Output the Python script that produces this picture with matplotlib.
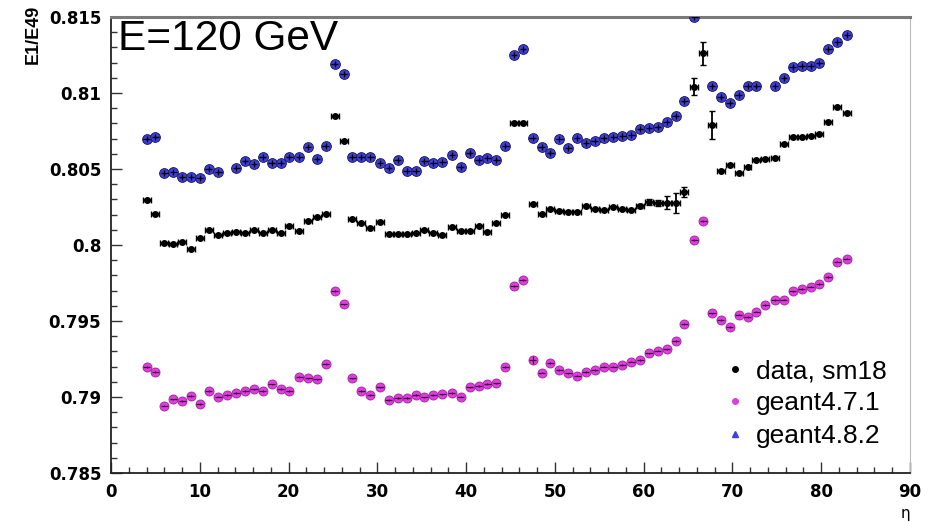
import numpy as np
import matplotlib
matplotlib.use("Agg")
import matplotlib.pyplot as plt
from matplotlib.ticker import MultipleLocator, FuncFormatter
from matplotlib.lines import Line2D

# eta position of each tower (as drawn on the axis)
eta = [4.0, 5.0, 6.0, 7.0, 8.0, 9.0, 10.0, 11.0, 12.1, 13.1,
       14.1, 15.1, 16.1, 17.1, 18.1, 19.1, 20.1, 21.2, 22.2, 23.2,
       24.2, 25.2, 26.2, 27.2, 28.2, 29.2, 30.3, 31.3, 32.3, 33.3,
       34.3, 35.3, 36.3, 37.3, 38.4, 39.4, 40.4, 41.4, 42.4, 43.4,
       44.4, 45.4, 46.4, 47.5, 48.5, 49.5, 50.5, 51.5, 52.5, 53.5,
       54.5, 55.5, 56.6, 57.6, 58.6, 59.6, 60.6, 61.6, 62.6, 63.6,
       64.6, 65.7, 66.7, 67.7, 68.7, 69.7, 70.7, 71.7, 72.7, 73.7,
       74.8, 75.8, 76.8, 77.8, 78.8, 79.8, 80.8, 81.8, 82.9]

# E1/E49 for beam data (run sm18)
data_sm18 = [0.80296, 0.80204, 0.80011, 0.80007, 0.80022, 0.79972, 0.80044, 0.80099, 0.80066, 0.80077,
             0.80088, 0.80081, 0.80099, 0.80077, 0.80099, 0.80077, 0.80125, 0.80094, 0.80160, 0.80182,
             0.80204, 0.80849, 0.80684, 0.80169, 0.80142, 0.80115, 0.80153, 0.80072, 0.80072, 0.80072,
             0.80077, 0.80099, 0.80081, 0.80066, 0.80120, 0.80092, 0.80094, 0.80127, 0.80088, 0.80142,
             0.80200, 0.80801, 0.80801, 0.80270, 0.80202, 0.80235, 0.80224, 0.80219, 0.80219, 0.80257,
             0.80235, 0.80230, 0.80252, 0.80235, 0.80230, 0.80257, 0.80285, 0.80278, 0.80278, 0.80274,
             0.80351, 0.81041, 0.81261, 0.80790, 0.80489, 0.80526, 0.80474, 0.80515, 0.80557, 0.80567,
             0.80572, 0.80663, 0.80712, 0.80710, 0.80720, 0.80730, 0.80811, 0.80910, 0.80870]
data_err = [0.00005] * 55 + [0.00015, 0.0002, 0.0002, 0.00044, 0.00066,
                             0.00033, 0.00055, 0.00077, 0.00092] + [0.00005] * 15

# geant4.7.1 simulation
g471 = [0.79199, 0.79166, 0.78943, 0.78985, 0.78974, 0.79007, 0.78954, 0.79040, 0.79002, 0.79013,
        0.79028, 0.79041, 0.79050, 0.79041, 0.79083, 0.79053, 0.79041, 0.79134, 0.79123, 0.79116,
        0.79217, 0.79699, 0.79610, 0.79123, 0.79040, 0.79013, 0.79064, 0.78980, 0.78995, 0.78995,
        0.79013, 0.78998, 0.79013, 0.79018, 0.79028, 0.79002, 0.79064, 0.79072, 0.79085, 0.79090,
        0.79199, 0.79730, 0.79770, 0.79243, 0.79160, 0.79222, 0.79178, 0.79156, 0.79140, 0.79166,
        0.79178, 0.79200, 0.79200, 0.79210, 0.79232, 0.79243, 0.79287, 0.79305, 0.79314, 0.79370,
        0.79480, 0.80033, 0.80158, 0.79550, 0.79505, 0.79459, 0.79542, 0.79526, 0.79561, 0.79605,
        0.79638, 0.79640, 0.79695, 0.79712, 0.79726, 0.79745, 0.79789, 0.79890, 0.79910]
g471_err = [0.00005] * 43 + [0.00026] + [0.00005] * 35

# geant4.8.2 simulation (nan = tower not available)
nan = np.nan
g482 = [0.80697, 0.80708, 0.80472, 0.80482, 0.80449, 0.80449, 0.80439, 0.80498, 0.80478, nan,
        0.80505, 0.80555, 0.80531, 0.80577, 0.80537, 0.80537, 0.80577, 0.80577, 0.80647, 0.80566,
        0.80651, 0.81191, 0.81125, 0.80581, 0.80581, 0.80577, 0.80541, 0.80505, 0.80559, 0.80487,
        0.80487, 0.80555, 0.80541, 0.80548, 0.80592, 0.80515, 0.80603, 0.80559, 0.80574, 0.80559,
        0.80651, 0.81250, 0.81287, 0.80706, 0.80643, 0.80603, 0.80695, 0.80636, 0.80702, 0.80673,
        0.80686, 0.80706, 0.80713, 0.80717, 0.80724, 0.80761, 0.80768, 0.80778, 0.80811, 0.80849,
        0.80947, 0.81500, nan, 0.81046, 0.80972, 0.80932, 0.80987, 0.81046, 0.81046, nan,
        0.81046, 0.81097, 0.81169, 0.81178, 0.81178, 0.81195, 0.81287, 0.81338, 0.81382]

labels = ["data, sm18", "geant4.7.1", "geant4.8.2"]
magenta = "#e03ce0"
blue = "#4040e0"

fig = plt.figure(figsize=(9.41, 5.23), dpi=100)
ax = fig.add_axes([0.118, 0.0956, 0.849, 0.8719])

x = np.array(eta)

# geant4.7.1: filled magenta circles with a dark horizontal bar
ax.plot(x, g471, "o", color=magenta, markersize=6.5, markeredgecolor="#a020a0",
        markeredgewidth=0.6, zorder=3)
ax.errorbar(x, g471, xerr=0.4, yerr=g471_err, fmt="none", ecolor="#3a103a",
            elinewidth=0.9, zorder=4)

# geant4.8.2: blue circles with a black cross
ax.plot(x, g482, "o", color=blue, markersize=7, markeredgecolor="#1a1a60",
        markeredgewidth=0.7, zorder=3)
ax.errorbar(x, g482, xerr=0.38, yerr=0.0002, fmt="none", ecolor="black",
            elinewidth=1.0, zorder=4)

# data: small black dots with horizontal bars
ax.errorbar(x, data_sm18, xerr=0.45, yerr=data_err, fmt="o", color="black",
            markersize=4, ecolor="black", elinewidth=1.3, capsize=2,
            capthick=1.0, zorder=5)

ax.set_xlim(0, 90)
ax.set_ylim(0.785, 0.815)

ax.xaxis.set_major_locator(MultipleLocator(10))
ax.xaxis.set_minor_locator(MultipleLocator(2))
ax.yaxis.set_major_locator(MultipleLocator(0.005))
ax.yaxis.set_minor_locator(MultipleLocator(0.001))


def fmt_tick(v, pos):
    s = f"{v:.3f}".rstrip("0").rstrip(".")
    return s


ax.yaxis.set_major_formatter(FuncFormatter(fmt_tick))
ax.xaxis.set_major_formatter(FuncFormatter(lambda v, p: f"{v:.0f}"))

ax.tick_params(which="both", direction="in", top=False, right=False,
               color="#333333", width=1.0)
ax.tick_params(which="major", length=8, labelsize=12, pad=7)
ax.tick_params(which="minor", length=4)
for lab in ax.get_xticklabels() + ax.get_yticklabels():
    lab.set_fontweight("bold")
    lab.set_family("DejaVu Sans")

for side in ("left", "bottom"):
    ax.spines[side].set_color("#222222")
    ax.spines[side].set_linewidth(1.3)
ax.spines["top"].set_color("#7a7a7a")
ax.spines["top"].set_linewidth(2.2)
ax.spines["right"].set_color("#bbbbbb")
ax.spines["right"].set_linewidth(0.8)

ax.text(0.009, 0.996, "E=120 GeV", transform=ax.transAxes, ha="left", va="top",
        fontsize=30.5, family="Liberation Sans", zorder=6)

fig.text(0.035, 0.99, "E1/E49", rotation=90, ha="center", va="top",
         fontsize=13, fontweight="bold", family="Liberation Sans")
ax.text(1.0, -0.088, "η", transform=ax.transAxes, ha="right", va="center",
        fontsize=11, family="DejaVu Sans")

handles = [
    Line2D([], [], ls="none", marker="o", color="black", markersize=4),
    Line2D([], [], ls="none", marker="o", color=magenta, markersize=4),
    Line2D([], [], ls="none", marker="^", color=blue, markersize=4),
]
ax.legend(handles, labels, loc="upper left", bbox_to_anchor=(0.738, 0.302),
          frameon=False, handlelength=0.8, handletextpad=0.4,
          labelspacing=0.32, prop={"family": "Liberation Sans", "size": 19})

fig.savefig("out.png", dpi=100, facecolor="white")
